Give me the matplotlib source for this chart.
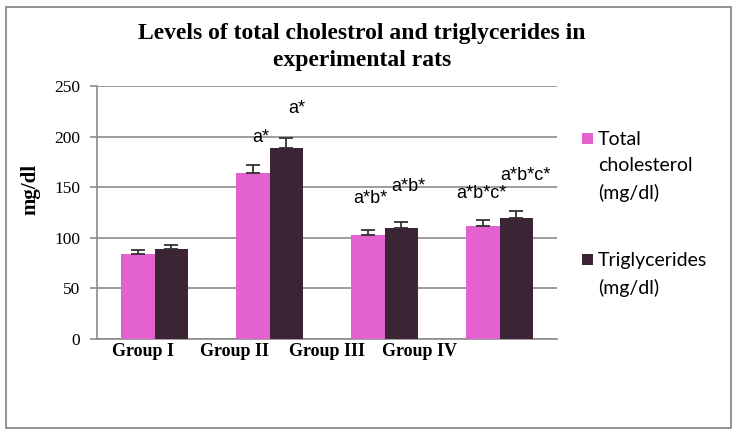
import numpy as np
import matplotlib.pyplot as plt
from matplotlib.patches import Rectangle

# =========================
# Data
# =========================
groups = ["Group I", "Group II", "Group III", "Group IV"]
cholesterol = [84, 164, 103, 112]
cholesterol_err = [4, 8, 5, 6]
triglycerides = [89, 189, 110, 120]
triglycerides_err = [4, 10, 6, 6]
chol_marks = ["", "a*", "a*b*", "a*b*c*"]
trig_marks = ["", "a*", "a*b*", "a*b*c*"]

PINK = "#E462CF"
DARK = "#3B2535"
GRID = "#8C8C8C"

fig = plt.figure(figsize=(7.38, 4.33), dpi=100)
ax = fig.add_axes([97 / 738, 1 - 339 / 433, 460 / 738, 253 / 433])

x = np.arange(len(groups))
w = 0.287
b1 = ax.bar(x - w / 2, cholesterol, w, color=PINK, zorder=3,
            yerr=[np.zeros(len(groups)), cholesterol_err],
            error_kw=dict(ecolor="#333333", elinewidth=1.3, capsize=5, capthick=1.3))
b2 = ax.bar(x + w / 2, triglycerides, w, color=DARK, zorder=3,
            yerr=[np.zeros(len(groups)), triglycerides_err],
            error_kw=dict(ecolor="#333333", elinewidth=1.3, capsize=5, capthick=1.3))

# significance marks
chol_y = [0, 199, 139, 144]
trig_y = [0, 228, 151, 162]
chol_dx = [0, 0.07, 0.02, -0.01]
trig_dx = [0, 0.09, 0.06, 0.08]
for i in range(len(groups)):
    if chol_marks[i]:
        ax.text(x[i] - w / 2 + chol_dx[i], chol_y[i], chol_marks[i], ha="center", va="center",
                fontsize=13, family="Liberation Sans", zorder=4)
    if trig_marks[i]:
        ax.text(x[i] + w / 2 + trig_dx[i], trig_y[i], trig_marks[i], ha="center", va="center",
                fontsize=13, family="Liberation Sans", zorder=4)

ax.set_xlim(-0.5, len(groups) - 0.5)
ax.set_ylim(0, 250)
ax.set_yticks(np.arange(0, 251, 50))
ax.yaxis.grid(True, color=GRID, linewidth=1.2, zorder=0)
ax.set_axisbelow(True)

# x labels sit on an odd five-slot spacing, as in the source
slots = len(groups) + 1
label_pos = [-0.5 + (i + 0.5) * len(groups) / slots for i in range(len(groups))]
ax.set_xticks(label_pos)
ax.set_xticklabels(groups, family="Liberation Serif", fontweight="bold", fontsize=13)
ax.tick_params(axis="x", length=0, pad=3)
ax.tick_params(axis="y", length=5, color=GRID, width=1.2, labelsize=12.5, pad=7)
for lab in ax.get_yticklabels():
    lab.set_family("Liberation Serif")

for s in ["top", "right"]:
    ax.spines[s].set_visible(False)
for s in ["left", "bottom"]:
    ax.spines[s].set_color(GRID)
    ax.spines[s].set_linewidth(1.2)

fig.text(30 / 738, 1 - 189 / 433, "mg/dl", rotation=90, ha="center", va="center",
         family="Liberation Serif", fontweight="bold", fontsize=15)

fig.text(362 / 738, 1 - 47 / 433, "Levels of total cholestrol and triglycerides in\nexperimental rats",
         ha="center", va="center", family="Liberation Serif", fontweight="bold",
         fontsize=17, linespacing=1.4)

# legend drawn by hand so the square sits at the first text line
legend_items = [(b1, "Total\ncholesterol\n(mg/dl)", 139), (b2, "Triglycerides\n(mg/dl)", 260)]
for bars, label, ytop in legend_items:
    fig.patches.append(Rectangle((582 / 738, 1 - (ytop + 5) / 433), 11 / 738, 11 / 433,
                                 transform=fig.transFigure, facecolor=bars.patches[0].get_facecolor(),
                                 edgecolor="none"))
    fig.text(598 / 738, 1 - (ytop - 8) / 433, label, ha="left", va="top",
             family="Lato", fontsize=14, linespacing=1.64)

# outer border
fig.patches.append(Rectangle((6.5 / 738, 1 - 428 / 433), 724.5 / 738, 421 / 433,
                             transform=fig.transFigure, fill=False, edgecolor="#808080", linewidth=1.2))

fig.savefig("out.png", dpi=100)
